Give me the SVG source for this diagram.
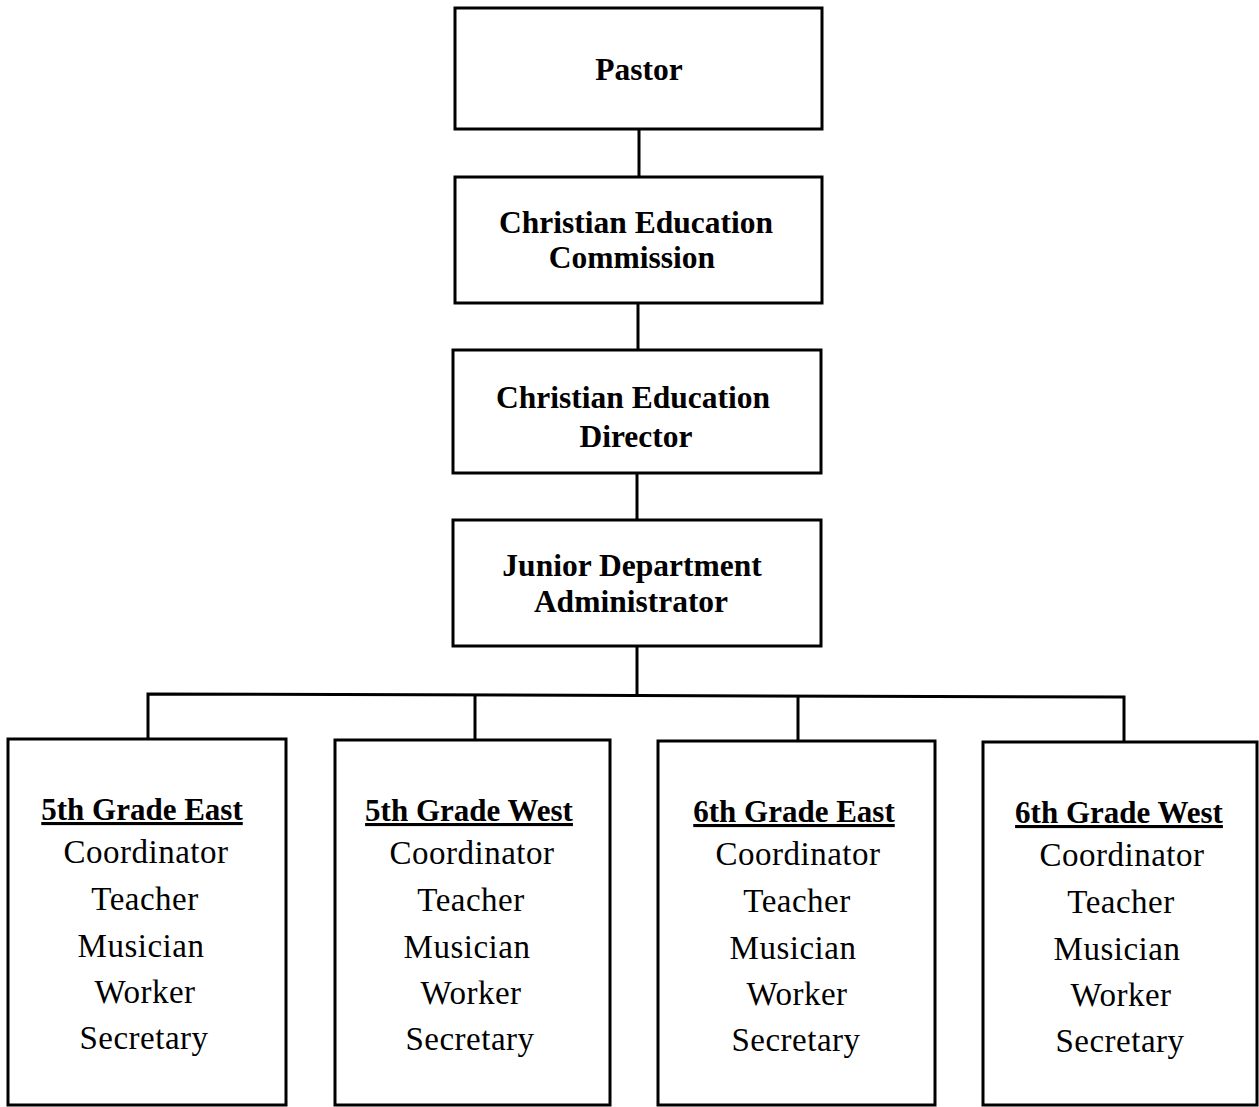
<svg xmlns="http://www.w3.org/2000/svg" width="1259" height="1107" viewBox="0 0 1259 1107">
<style>
.box{fill:#fff;stroke:#000;stroke-width:3}
.conn{fill:none;stroke:#000;stroke-width:3}
.t{font-family:"Liberation Serif","Times New Roman",serif;text-anchor:middle;fill:#000}
.b{font-weight:bold;font-size:31.5px}
.h{font-weight:bold;font-size:31px;text-decoration:underline}
.r{font-size:33px;letter-spacing:0.5px}
</style>
<rect width="1259" height="1107" fill="#fff"/>
<g id="connectors">
<line class="conn" x1="639" y1="129" x2="639" y2="177"/>
<line class="conn" x1="638" y1="303" x2="638" y2="350"/>
<line class="conn" x1="637" y1="473" x2="637" y2="520"/>
<line class="conn" x1="637" y1="646" x2="637" y2="695"/>
<polyline class="conn" points="148,739 148,694 1124,697 1124,742"/>
<line class="conn" x1="475" y1="695" x2="475" y2="740"/>
<line class="conn" x1="798" y1="696" x2="798" y2="741"/>
</g>
<g id="pastor">
<rect class="box" x="455" y="8" width="367" height="121"/>
<text class="t b" x="639" y="80">Pastor</text>
</g>
<g id="commission">
<rect class="box" x="455" y="177" width="367" height="126"/>
<text class="t b" x="636" y="233">Christian Education</text>
<text class="t b" x="632" y="268">Commission</text>
</g>
<g id="director">
<rect class="box" x="453" y="350" width="368" height="123"/>
<text class="t b" x="633" y="408">Christian Education</text>
<text class="t b" x="636" y="447">Director</text>
</g>
<g id="administrator">
<rect class="box" x="453" y="520" width="368" height="126"/>
<text class="t b" x="632" y="576">Junior Department</text>
<text class="t b" x="631" y="612">Administrator</text>
</g>
<g id="g5east">
<rect class="box" x="8" y="739" width="278" height="366"/>
<text class="t h" x="142" y="820">5th Grade East</text>
<text class="t r" x="146" y="863">Coordinator</text>
<text class="t r" x="145" y="910">Teacher</text>
<text class="t r" x="141" y="957">Musician</text>
<text class="t r" x="145" y="1003">Worker</text>
<text class="t r" x="144" y="1049">Secretary</text>
</g>
<g id="g5west">
<rect class="box" x="335" y="740" width="275" height="365"/>
<text class="t h" x="469" y="821">5th Grade West</text>
<text class="t r" x="472" y="864">Coordinator</text>
<text class="t r" x="471" y="911">Teacher</text>
<text class="t r" x="467" y="958">Musician</text>
<text class="t r" x="471" y="1004">Worker</text>
<text class="t r" x="470" y="1050">Secretary</text>
</g>
<g id="g6east">
<rect class="box" x="658" y="741" width="277" height="364"/>
<text class="t h" x="794" y="822">6th Grade East</text>
<text class="t r" x="798" y="865">Coordinator</text>
<text class="t r" x="797" y="912">Teacher</text>
<text class="t r" x="793" y="959">Musician</text>
<text class="t r" x="797" y="1005">Worker</text>
<text class="t r" x="796" y="1051">Secretary</text>
</g>
<g id="g6west">
<rect class="box" x="983" y="742" width="274" height="363"/>
<text class="t h" x="1119" y="823">6th Grade West</text>
<text class="t r" x="1122" y="866">Coordinator</text>
<text class="t r" x="1121" y="913">Teacher</text>
<text class="t r" x="1117" y="960">Musician</text>
<text class="t r" x="1121" y="1006">Worker</text>
<text class="t r" x="1120" y="1052">Secretary</text>
</g>
</svg>
